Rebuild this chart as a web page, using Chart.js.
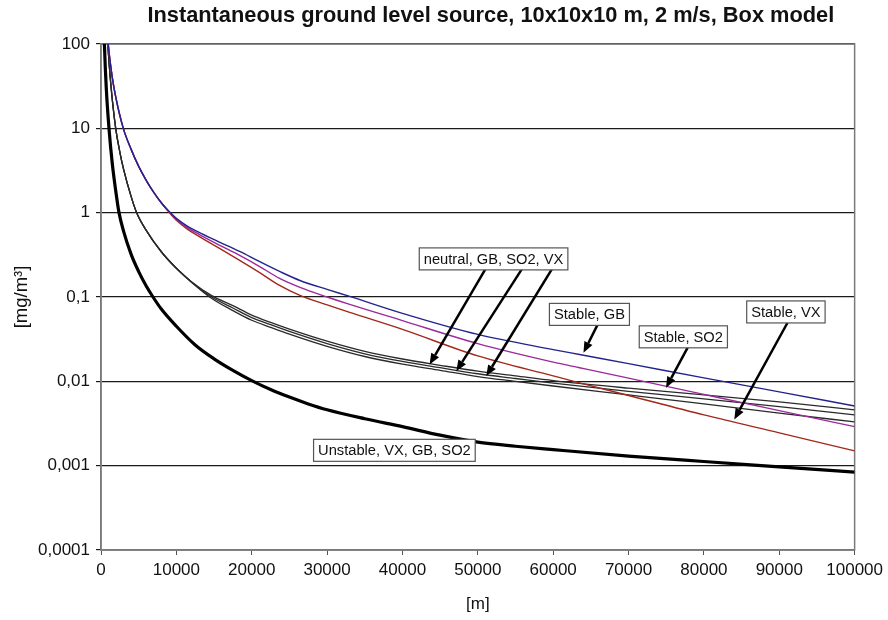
<!DOCTYPE html>
<html>
<head>
<meta charset="utf-8">
<title>Box model</title>
<style>
  html, body { margin: 0; padding: 0; background: #fff; }
  #wrap { width: 888px; height: 620px; }
</style>
</head>
<body>
<div id="wrap"><canvas id="grafico" width="888" height="620"></canvas></div>
<script src="https://cdn.jsdelivr.net/npm/chart.js@4/dist/chart.umd.min.js"></script>
<script>
// concentration [mg/m3] against distance [m]

const unstableX = [300, 450, 700, 1060, 1500, 2000, 2390, 3000, 4000, 5000, 6000, 6900, 8000, 10000, 12500, 15000, 17500, 20000, 22500, 25000, 27500, 30000, 35000, 40000, 45000, 50000, 55000, 60000, 70000, 80000, 90000, 100000];
const unstableY = [300, 100, 30, 10, 3.8, 1.7, 1, 0.6, 0.32, 0.2, 0.135, 0.1, 0.072, 0.045, 0.027, 0.0185, 0.0135, 0.0102, 0.008, 0.0065, 0.0054, 0.0046, 0.0036, 0.0029, 0.0023, 0.0019, 0.0017, 0.00155, 0.0013, 0.00112, 0.00097, 0.00084];

const neutralX = [600, 900, 1300, 1950, 2500, 3000, 4000, 4730, 6000, 8000, 10000, 12000, 14700, 17500, 20000, 22500, 25000, 30000, 35000, 40000, 45000, 50000, 55000, 60000, 70000, 80000, 90000, 100000];
const neutralGB  = [334, 100, 33.6, 10, 5.24, 3.26, 1.55, 1, 0.617, 0.344, 0.219, 0.152, 0.104, 0.079, 0.061, 0.050, 0.0417, 0.030, 0.0227, 0.0184, 0.0155, 0.0132, 0.0116, 0.0102, 0.0083, 0.0069, 0.0057, 0.0046];
const neutralSO2 = [334, 100, 33.6, 10, 5.24, 3.26, 1.55, 1, 0.617, 0.344, 0.219, 0.151, 0.1, 0.074, 0.057, 0.047, 0.039, 0.028, 0.0212, 0.0172, 0.0145, 0.0123, 0.0108, 0.0095, 0.0076, 0.0062, 0.0050, 0.0040];
const neutralVX  = [334, 100, 33.6, 10, 5.24, 3.26, 1.55, 1, 0.617, 0.344, 0.219, 0.150, 0.096, 0.069, 0.053, 0.0437, 0.0363, 0.026, 0.0197, 0.016, 0.0135, 0.0114, 0.010, 0.0088, 0.0069, 0.0054, 0.0042, 0.0033];

const stableX = [700, 958, 1500, 2000, 2960, 4000, 5000, 6000, 7000, 8000, 9150, 10000, 11500, 13000, 15500, 18400, 21000, 23700, 26400, 30000, 33000, 40000, 50000, 60000, 63500, 70000, 80000, 90000, 100000];
const stableGB  = [210, 100, 40, 22.5, 10, 5.63, 3.54, 2.42, 1.74, 1.31, 1.01, 0.855, 0.687, 0.583, 0.457, 0.347, 0.264, 0.201, 0.157, 0.123, 0.1016, 0.064, 0.036, 0.0238, 0.0208, 0.0162, 0.011, 0.0075, 0.0051];
const stableSO2 = [210, 100, 40, 22.5, 10, 5.63, 3.54, 2.42, 1.74, 1.31, 0.995, 0.832, 0.660, 0.553, 0.421, 0.311, 0.231, 0.166, 0.130, 0.100, 0.0817, 0.0525, 0.028, 0.0169, 0.0145, 0.0109, 0.0070, 0.0045, 0.0029];
const stableVX  = [210, 100, 40, 22.5, 10, 5.63, 3.54, 2.42, 1.74, 1.31, 0.982, 0.811, 0.634, 0.524, 0.388, 0.272, 0.196, 0.137, 0.1044, 0.0805, 0.0656, 0.0413, 0.020, 0.0116, 0.0096, 0.0068, 0.0040, 0.00245, 0.0015];

const yTickValues = [0.0001, 0.001, 0.01, 0.1, 1, 10, 100];
const yTickLabels = ['0,0001', '0,001', '0,01', '0,1', '1', '10', '100'];

// text boxes and arrows, placed in data units (distance, concentration)
const notes = [
  { text: 'neutral, GB, SO2, VX', x: 52090, y: 0.283 },
  { text: 'Stable, GB', x: 64810, y: 0.0622 },
  { text: 'Stable, SO2', x: 77270, y: 0.0337 },
  { text: 'Stable, VX', x: 90880, y: 0.0665 },
  { text: 'Unstable, VX, GB, SO2', x: 38930, y: 0.00152 }
];
const arrows = [
  [51120, 0.223, 43600, 0.0158],
  [55970, 0.223, 47140, 0.0132],
  [59950, 0.223, 51120, 0.01153],
  [65910, 0.0473, 64020, 0.0218],
  [77840, 0.0251, 74970, 0.0084],
  [91090, 0.0495, 84030, 0.00353]
];

const FONT = '"Liberation Sans", Arial, Helvetica, sans-serif';
Chart.defaults.font.family = FONT;
Chart.defaults.color = '#111';

function puntos(xs, ys) {
  return xs.map((x, i) => ({ x: x, y: ys[i] }));
}

function serie(label, xs, ys, color, width) {
  return {
    label: label,
    data: puntos(xs, ys),
    borderColor: color,
    borderWidth: width,
    pointRadius: 0,
    fill: false,
    cubicInterpolationMode: 'monotone'
  };
}

const titulo = {
  id: 'titulo',
  afterDraw(chart) {
    const ctx = chart.ctx;
    const a = chart.chartArea;
    ctx.save();
    ctx.font = 'bold 21.8px ' + FONT;
    ctx.fillStyle = '#111';
    ctx.textAlign = 'center';
    ctx.textBaseline = 'middle';
    ctx.fillText('Instantaneous ground level source, 10x10x10 m, 2 m/s, Box model', (a.left + a.right) / 2 + 13, 16);
    ctx.restore();
  }
};

const marco = {
  id: 'marco',
  beforeDatasetsDraw(chart) {
    const ctx = chart.ctx;
    const a = chart.chartArea;
    ctx.save();
    ctx.strokeStyle = '#7a7a7a';
    ctx.lineWidth = 1.5;
    ctx.strokeRect(a.left, a.top, a.right - a.left, a.bottom - a.top);
    ctx.restore();
  }
};

const notas = {
  id: 'notas',
  afterDatasetsDraw(chart) {
    const ctx = chart.ctx;
    const sx = chart.scales.x, sy = chart.scales.y;
    ctx.save();
    // arrows
    ctx.strokeStyle = '#000';
    ctx.fillStyle = '#000';
    ctx.lineWidth = 2.5;
    arrows.forEach(a => {
      const x1 = sx.getPixelForValue(a[0]), y1 = sy.getPixelForValue(a[1]);
      const x2 = sx.getPixelForValue(a[2]), y2 = sy.getPixelForValue(a[3]);
      const ang = Math.atan2(y2 - y1, x2 - x1);
      const len = 11, half = 4.5;
      const bx = x2 - len * Math.cos(ang), by = y2 - len * Math.sin(ang);
      ctx.beginPath();
      ctx.moveTo(x1, y1);
      ctx.lineTo(bx, by);
      ctx.stroke();
      ctx.beginPath();
      ctx.moveTo(x2, y2);
      ctx.lineTo(bx + half * Math.sin(ang), by - half * Math.cos(ang));
      ctx.lineTo(bx - half * Math.sin(ang), by + half * Math.cos(ang));
      ctx.closePath();
      ctx.fill();
    });
    // boxes
    ctx.font = '14.7px ' + FONT;
    ctx.textAlign = 'center';
    ctx.textBaseline = 'middle';
    notes.forEach(n => {
      const cx = sx.getPixelForValue(n.x), cy = sy.getPixelForValue(n.y);
      const w = ctx.measureText(n.text).width + 9, h = 22;
      ctx.fillStyle = '#fff';
      ctx.fillRect(cx - w / 2, cy - h / 2, w, h);
      ctx.strokeStyle = '#555';
      ctx.lineWidth = 1.2;
      ctx.strokeRect(cx - w / 2, cy - h / 2, w, h);
      ctx.fillStyle = '#111';
      ctx.fillText(n.text, cx, cy + 1);
    });
    ctx.restore();
  }
};

const ctx = document.getElementById('grafico');

new Chart(ctx, {
  type: 'line',
  data: {
    datasets: [
      serie('Stable, GB', stableX, stableGB, '#23238f', 1.4),
      serie('Stable, SO2', stableX, stableSO2, '#9c2a9c', 1.4),
      serie('Stable, VX', stableX, stableVX, '#a3281c', 1.4),
      serie('neutral, GB', neutralX, neutralGB, '#2a2a2a', 1.3),
      serie('neutral, SO2', neutralX, neutralSO2, '#2a2a2a', 1.3),
      serie('neutral, VX', neutralX, neutralVX, '#2a2a2a', 1.3),
      serie('Unstable, VX, GB, SO2', unstableX, unstableY, '#000', 3.2)
    ]
  },
  plugins: [titulo, marco, notas],
  options: {
    responsive: false,
    animation: false,
    devicePixelRatio: 1,
    layout: { padding: { top: 44, right: 32, left: 0, bottom: 0 } },
    plugins: {
      legend: { display: false },
      title: { display: false },
      tooltip: { enabled: false }
    },
    scales: {
      x: {
        type: 'linear',
        min: 0,
        max: 100000,
        border: { display: true, color: '#7a7a7a', width: 1.5 },
        grid: { drawOnChartArea: false, drawTicks: true, tickLength: 5, color: '#555' },
        ticks: {
          stepSize: 10000,
          autoSkip: false,
          maxRotation: 0,
          padding: 5,
          font: { size: 17 },
          color: '#111',
          callback: v => String(v)
        },
        title: { display: true, text: '[m]', font: { size: 17 }, color: '#111', padding: { top: 0, bottom: 5 } },
        afterFit(scale) { scale.height = 70; }
      },
      y: {
        type: 'logarithmic',
        min: 0.0001,
        max: 100,
        border: { display: true, color: '#7a7a7a', width: 1.5 },
        grid: { color: '#1a1a1a', lineWidth: 1.2, tickLength: 5 },
        afterBuildTicks(scale) {
          scale.ticks = yTickValues.map(v => ({ value: v }));
        },
        ticks: {
          padding: 6,
          font: { size: 17 },
          color: '#111',
          callback: (v, i) => yTickLabels[i]
        },
        title: { display: true, text: '[mg/m³]', font: { size: 18.5 }, color: '#111', padding: { top: 11, bottom: 0 } },
        afterFit(scale) { scale.width = 101; }
      }
    }
  }
});
</script>
</body>
</html>
